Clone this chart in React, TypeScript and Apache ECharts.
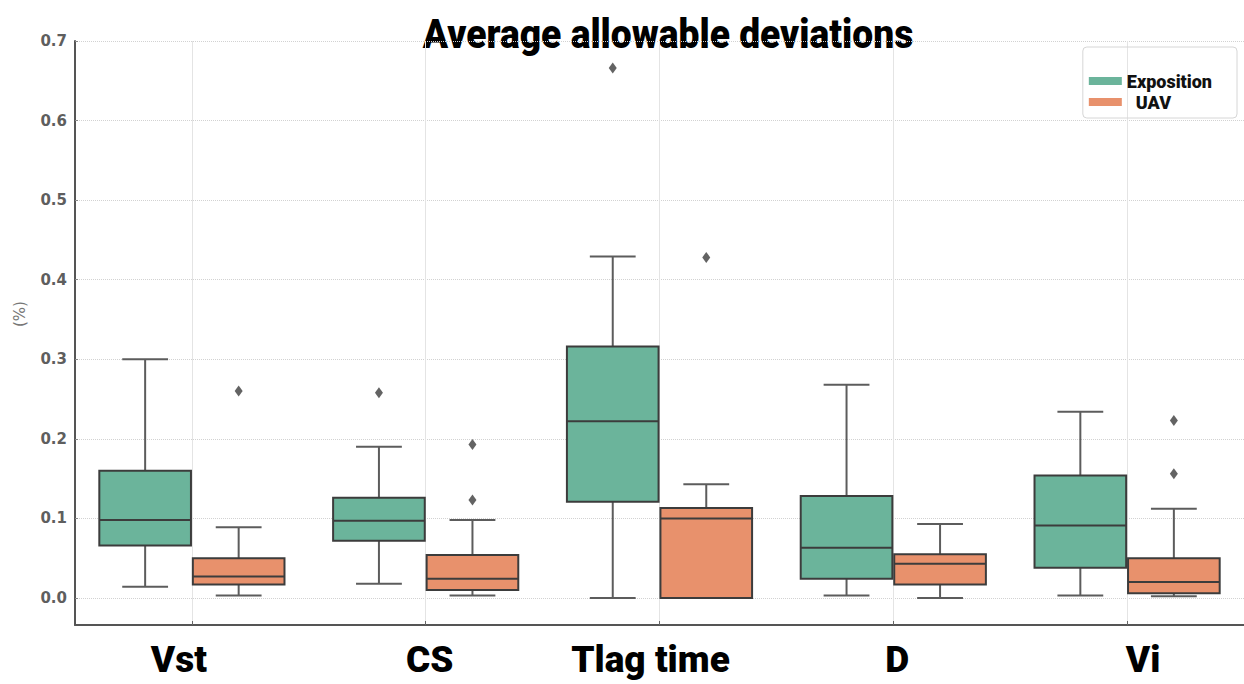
import { useEffect, useRef } from 'react';
import * as echarts from 'echarts';

const categories = ['Vst', 'CS', 'Tlag time', 'D', 'Vi'];
const seriesNames = ['Exposition', 'UAV'];
// [min, q1, median, q3, max]
const expositionBoxes = [
  [0.014, 0.066, 0.098, 0.160, 0.300],
  [0.018, 0.072, 0.097, 0.126, 0.190],
  [0.000, 0.121, 0.222, 0.316, 0.429],
  [0.003, 0.024, 0.063, 0.128, 0.268],
  [0.003, 0.038, 0.091, 0.154, 0.234],
];
const uavBoxes = [
  [0.003, 0.017, 0.027, 0.050, 0.089],
  [0.003, 0.010, 0.024, 0.054, 0.098],
  [0.000, 0.000, 0.100, 0.113, 0.143],
  [0.000, 0.017, 0.043, 0.055, 0.093],
  [0.002, 0.006, 0.020, 0.050, 0.112],
];
// [category index, value]
const expositionOutliers = [
  [1, 0.258],
  [2, 0.666],
];
const uavOutliers = [
  [0, 0.260],
  [1, 0.193],
  [1, 0.123],
  [2, 0.428],
  [4, 0.223],
  [4, 0.156],
];
const yTicks = [0, 0.1, 0.2, 0.3, 0.4, 0.5, 0.6, 0.7];
const xTicks = [0, 1, 2, 3, 4];

// layout: horizontal nudge (px) of each category label, as in the original figure
const labelShift = [-13, 4, -9, 4, 16];

const GREEN = '#6bb49b';
const ORANGE = '#e8916c';
const EDGE = '#3c3c3c';
const WHISKER = '#5c5c5c';
const HEAVY = 'Roboto';

function makeRender(offset: number, fill: string) {
  return (_params: any, api: any) => {
    const c = api.value(0) + offset;
    const mn = api.coord([c, api.value(1)]);
    const q1 = api.coord([c, api.value(2)]);
    const md = api.coord([c, api.value(3)]);
    const q3 = api.coord([c, api.value(4)]);
    const mx = api.coord([c, api.value(5)]);
    const hw = api.size([0.196, 0])[0];
    const cw = hw / 2;
    const x = mn[0];
    const line = (x1: number, y1: number, x2: number, y2: number, stroke: string) => ({
      type: 'line',
      shape: { x1, y1, x2, y2 },
      style: { stroke, lineWidth: 2 },
    });
    return {
      type: 'group',
      children: [
        line(x, q3[1], x, mx[1], WHISKER),
        line(x, mn[1], x, q1[1], WHISKER),
        line(x - cw, mx[1], x + cw, mx[1], WHISKER),
        line(x - cw, mn[1], x + cw, mn[1], WHISKER),
        {
          type: 'rect',
          shape: { x: x - hw, y: q3[1], width: 2 * hw, height: q1[1] - q3[1] },
          style: { fill, stroke: EDGE, lineWidth: 2 },
        },
        line(x - hw, md[1], x + hw, md[1], EDGE),
      ],
    };
  };
}

const labelRich: Record<string, any> = {};
labelShift.forEach((s, i) => {
  labelRich['c' + i] = {
    fontFamily: HEAVY,
    fontWeight: 900,
    fontSize: 37,
    color: '#000',
    padding: s < 0 ? [0, -2 * s, 0, 0] : [0, 0, 0, 2 * s],
  };
});

export default function App() {
  const ref = useRef<HTMLDivElement>(null);
  useEffect(() => {
    if (!ref.current) return;
    const chart = echarts.init(ref.current, undefined, { renderer: 'svg' });
    chart.setOption({
      animation: false,
      backgroundColor: '#ffffff',
      grid: { left: 75, right: 0, top: 41, bottom: 59, outerBoundsMode: 'none', containLabel: false },
      graphic: [
        {
          type: 'text',
          x: 668,
          y: 34,
          scaleX: 0.93,
          style: {
            text: 'Average allowable deviations',
            font: `900 40px ${HEAVY}`,
            fill: '#000',
            textAlign: 'center',
            textVerticalAlign: 'middle',
          },
        },
      ],
      legend: {
        data: [
          { name: seriesNames[0], itemStyle: { color: GREEN } },
          { name: seriesNames[1], itemStyle: { color: ORANGE } },
        ],
        orient: 'vertical',
        right: 7,
        top: 47,
        icon: 'rect',
        itemWidth: 33,
        itemHeight: 8,
        itemGap: 3,
        padding: [25, 25, 7, 6],
        borderColor: '#d6d6d6',
        borderWidth: 1,
        borderRadius: 4,
        formatter: (name: string) => (name === 'UAV' ? `{u|${name}}` : name),
        textStyle: {
          fontFamily: HEAVY,
          fontWeight: 900,
          fontSize: 18,
          lineHeight: 16,
          color: '#111',
          rich: {
            u: { fontFamily: HEAVY, fontWeight: 900, fontSize: 18, lineHeight: 16, color: '#111', padding: [0, 0, 0, 9] },
          },
        },
      },
      xAxis: {
        type: 'value',
        min: -0.5,
        max: 4.5,
        axisLine: { show: true, onZero: false, lineStyle: { color: '#555', width: 2 } },
        axisTick: { show: true, inside: true, length: 4, customValues: xTicks, lineStyle: { color: '#666' } },
        axisLabel: {
          customValues: xTicks,
          formatter: (v: number) => {
            const i = Math.round(v);
            return `{c${i}|${categories[i]}}`;
          },
          fontFamily: HEAVY,
          fontWeight: 900,
          fontSize: 37,
          color: '#000',
          margin: 16,
          rich: labelRich,
        },
        splitLine: { show: true, lineStyle: { color: '#e4e4e4', width: 1 } },
      },
      yAxis: {
        type: 'value',
        min: -0.034,
        max: 0.7,
        name: '(%)',
        nameLocation: 'middle',
        nameGap: 48,
        nameTextStyle: { fontFamily: 'DejaVu Sans', fontSize: 15, color: '#777', padding: [0, 0, 0, 38] },
        axisLine: { show: true, onZero: false, lineStyle: { color: '#555', width: 2 } },
        axisTick: { show: true, inside: true, length: 3, customValues: yTicks, lineStyle: { color: '#888' } },
        axisLabel: {
          customValues: yTicks,
          formatter: (v: number) => v.toFixed(1),
          fontFamily: 'DejaVu Sans',
          fontWeight: 'bold',
          fontSize: 15,
          color: '#5e5e5e',
          margin: 8,
        },
        splitLine: { show: true, lineStyle: { type: 'dotted', color: '#d2d2d2', width: 1 } },
      },
      series: [
        {
          name: seriesNames[0],
          type: 'custom',
          itemStyle: { color: GREEN },
          renderItem: makeRender(-0.2, GREEN),
          encode: { x: 0, y: [1, 2, 3, 4, 5] },
          data: expositionBoxes.map((b, i) => [i, ...b]),
          z: 3,
        },
        {
          name: seriesNames[1],
          type: 'custom',
          itemStyle: { color: ORANGE },
          renderItem: makeRender(0.2, ORANGE),
          encode: { x: 0, y: [1, 2, 3, 4, 5] },
          data: uavBoxes.map((b, i) => [i, ...b]),
          z: 3,
        },
        {
          name: 'Exposition outliers',
          type: 'scatter',
          symbol: 'diamond',
          symbolSize: [8, 11],
          itemStyle: { color: EDGE },
          data: expositionOutliers.map(([i, v]) => [i - 0.2, v]),
          z: 4,
        },
        {
          name: 'UAV outliers',
          type: 'scatter',
          symbol: 'diamond',
          symbolSize: [8, 11],
          itemStyle: { color: EDGE },
          data: uavOutliers.map(([i, v]) => [i + 0.2, v]),
          z: 4,
        },
      ],
    });
    return () => chart.dispose();
  }, []);
  return <div ref={ref} style={{ position: 'fixed', left: 0, top: 0, width: 1244, height: 684 }} />;
}
